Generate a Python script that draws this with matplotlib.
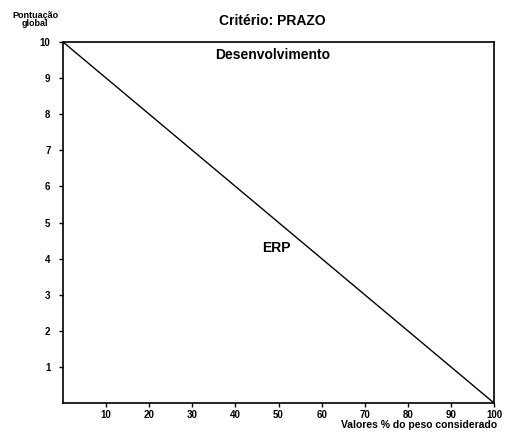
import numpy as np
import matplotlib.pyplot as plt

plt.rcParams['font.family'] = 'Liberation Sans'
plt.rcParams['font.weight'] = 'bold'

# data
peso = [0, 100]
pontuacao = [10, 0]
xticks = [10, 20, 30, 40, 50, 60, 70, 80, 90, 100]
yticks = [1, 2, 3, 4, 5, 6, 7, 8, 9, 10]

fig = plt.figure(figsize=(5.05, 4.32), dpi=100)
ax = fig.add_axes([0.1248, 0.0671, 0.8535, 0.8357])

ax.plot(peso, pontuacao, color='black', lw=1.0)
ax.set_xlim(0, 100)
ax.set_ylim(0, 10)
ax.set_xticks(xticks)
ax.set_yticks(yticks)
ax.tick_params(axis='both', labelsize=7, length=3, width=1, direction='out')
ax.tick_params(axis='x', pad=2)
ax.tick_params(axis='y', pad=6)
for lab in ax.get_xticklabels() + ax.get_yticklabels():
    lab.set_fontweight('bold')
for s in ax.spines.values():
    s.set_linewidth(1.2)

ax.text(48.7, 9.64, 'Desenvolvimento', ha='center', va='center', fontsize=10, fontweight='bold')
ax.text(49.6, 4.3, 'ERP', ha='center', va='center', fontsize=10, fontweight='bold')

fig.text(0.539, 0.951, 'Critério: PRAZO', ha='center', va='center', fontsize=10, fontweight='bold')
fig.text(0.07, 0.955, 'Pontuação\nglobal', ha='center', va='center', fontsize=6.5,
         fontweight='bold', linespacing=0.9)
fig.text(0.985, 0.016, 'Valores % do peso considerado', ha='right', va='center',
         fontsize=7.5, fontweight='bold')

fig.savefig('out.png', dpi=100)
